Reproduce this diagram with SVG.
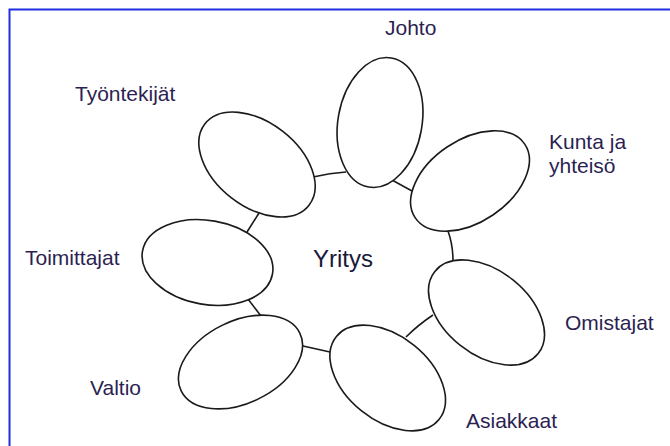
<svg xmlns="http://www.w3.org/2000/svg" width="670" height="446" viewBox="0 0 670 446">
<style>
.frame{fill:none;stroke:#1f2fe0;stroke-width:2}
.node ellipse{fill:#ffffff;stroke:#1a1a1a;stroke-width:1.6}
.conn path{fill:none;stroke:#1a1a1a;stroke-width:1.6}
.lbl{font-family:"Liberation Sans",Arial,sans-serif;font-size:21px;fill:#2c1f52}
.center{font-family:"Liberation Sans",Arial,sans-serif;font-size:24px;fill:#1a1a3a}
</style>
<rect x="0" y="0" width="670" height="446" fill="#ffffff"/>
<rect class="frame" x="9.5" y="9.5" width="700" height="500"/>
<g id="connectors" class="conn">
<path d="M313,177 Q330,173 346,172"/>
<path d="M392,180 L412,191"/>
<path d="M448,231 Q453,245 453,261"/>
<path d="M433,315 Q418,325 406,337"/>
<path d="M303,346 L330,352"/>
<path d="M261,316 L248,299"/>
<path d="M247,232 L259,213"/>
</g>
<g id="johto" class="node">
<ellipse cx="380" cy="122.5" rx="65.5" ry="42" transform="rotate(-80 380 122.5)"/>
<text class="lbl" x="385" y="35">Johto</text>
</g>
<g id="kunta" class="node">
<ellipse cx="470" cy="181" rx="66" ry="41" transform="rotate(-34 470 181)"/>
<text class="lbl" x="549" y="149">Kunta ja</text>
<text class="lbl" x="549" y="173">yhteisö</text>
</g>
<g id="omistajat" class="node">
<ellipse cx="486.5" cy="312.5" rx="66" ry="42" transform="rotate(38.5 486.5 312.5)"/>
<text class="lbl" x="565" y="330">Omistajat</text>
</g>
<g id="asiakkaat" class="node">
<ellipse cx="387.7" cy="378" rx="66" ry="42" transform="rotate(39 387.7 378)"/>
<text class="lbl" x="466" y="428">Asiakkaat</text>
</g>
<g id="valtio" class="node">
<ellipse cx="240.5" cy="362" rx="66" ry="41" transform="rotate(-26 240.5 362)"/>
<text class="lbl" x="90" y="395">Valtio</text>
</g>
<g id="toimittajat" class="node">
<ellipse cx="207.5" cy="262.5" rx="66" ry="42" transform="rotate(10 207.5 262.5)"/>
<text class="lbl" x="25" y="265">Toimittajat</text>
</g>
<g id="tyontekijat" class="node">
<ellipse cx="257" cy="164.5" rx="66" ry="42" transform="rotate(38 257 164.5)"/>
<text class="lbl" x="75" y="101">Työntekijät</text>
</g>
<g id="yritys">
<text class="center" x="313" y="267">Yritys</text>
</g>
</svg>
